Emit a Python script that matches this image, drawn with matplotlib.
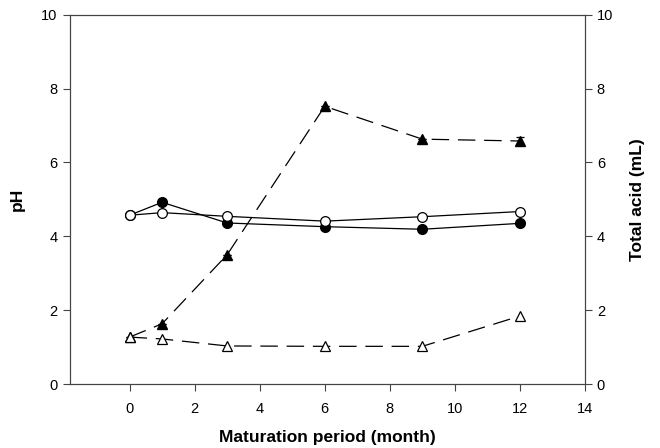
import matplotlib
matplotlib.use("Agg")
import matplotlib.pyplot as plt

plt.rcParams['font.family'] = ['Liberation Sans', 'DejaVu Sans']

months = [0, 1, 3, 6, 9, 12]
ph_filled = [4.57, 4.92, 4.36, 4.26, 4.19, 4.35]
ph_open = [4.57, 4.64, 4.54, 4.41, 4.53, 4.67]
acid_filled = [1.27, 1.63, 3.5, 7.52, 6.63, 6.58]
acid_filled_err = [0, 0, 0, 0, 0, 0.1]
acid_open = [1.27, 1.22, 1.03, 1.02, 1.02, 1.84]
xticks = [0, 2, 4, 6, 8, 10, 12, 14]
yticks = [0, 2, 4, 6, 8, 10]

fig = plt.figure(figsize=(6.6, 4.48), dpi=100)
ax = fig.add_axes([70/660, 1-384/448, (585-70)/660, (384-14.7)/448])
ax2 = ax.twinx()

lw = 0.9
dash = (0, (14, 7))
ax.plot(months, ph_filled, '-', color='black', lw=lw, marker='o', ms=7,
        mfc='black', mec='black', zorder=3)
ax.plot(months, ph_open, '-', color='black', lw=lw, marker='o', ms=7,
        mfc='white', mec='black', mew=0.9, zorder=4)
ax2.errorbar(months, acid_filled, yerr=acid_filled_err, fmt='^', color='black',
             ls=dash, lw=lw, ms=7, mfc='black', mec='black', capsize=3,
             elinewidth=lw, capthick=lw, zorder=3)
ax2.plot(months, acid_open, color='black', ls=dash, lw=lw, marker='^', ms=7,
         mfc='white', mec='black', mew=0.9, zorder=5)

for a in (ax, ax2):
    a.set_ylim(0, 10)
    a.set_yticks(yticks)
    a.tick_params(direction='out', length=5, width=0.8, labelsize=10.5, color='#444444')
    for s in a.spines.values():
        s.set_linewidth(0.8)
        s.set_color('#444444')
ax.set_xlim(-1.83, 14)
ax.set_xticks(xticks)
ax.tick_params(axis='x', pad=8)
ax.tick_params(axis='y', pad=4)

ax.set_xlabel('Maturation period (month)', fontsize=12.5, fontweight='bold', labelpad=10)
ax.set_ylabel('pH', fontsize=12.5, fontweight='bold', labelpad=12)
ax2.set_ylabel('Total acid (mL)', fontsize=12.5, fontweight='bold', labelpad=12)

fig.savefig('out.png', dpi=100)
